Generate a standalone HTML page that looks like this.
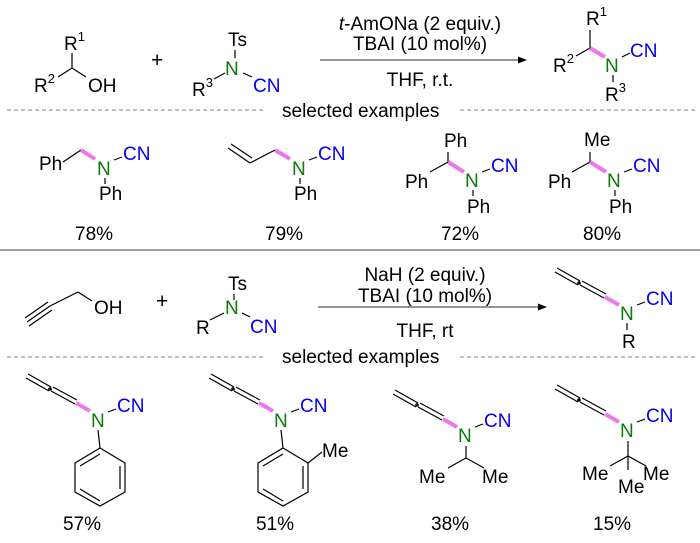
<!DOCTYPE html>
<html><head><meta charset="utf-8"><style>
html,body{margin:0;padding:0;background:#fff;}
svg{display:block;}
text{font-family:"Liberation Sans",Arial,sans-serif;font-size:19px;fill:#000;}
.g{fill:#0a7a0a;} .b{fill:#0000ee;}
.s{font-size:13px;}
line,polyline,polygon{stroke:#000;stroke-width:1.2;fill:none;}
.p{stroke:#ee77ee;stroke-width:4;}
.d{stroke:#888;stroke-dasharray:4 3;stroke-width:1;}
</style></head><body>
<svg width="700" height="543" viewBox="0 0 700 543">
<!-- top reaction -->
<text x="64" y="50">R<tspan class="s" dy="-9">1</tspan></text>
<line x1="72" y1="53" x2="72" y2="68"/>
<text x="34" y="92">R<tspan class="s" dy="-9">2</tspan></text>
<line x1="58" y1="77" x2="72" y2="68"/><line x1="72" y1="68" x2="86" y2="77"/>
<text x="88" y="92">OH</text>
<text x="151" y="67" style="font-size:21px">+</text>
<text x="228" y="46">Ts</text>
<line x1="235" y1="50" x2="235" y2="58"/>
<text class="g" x="225" y="75">N</text>
<text x="192" y="96">R<tspan class="s" dy="-9">3</tspan></text>
<line x1="214" y1="79" x2="225" y2="73"/><line x1="243" y1="73" x2="252" y2="77"/>
<text class="b" x="253" y="92">CN</text>
<line x1="320" y1="60" x2="520" y2="60" style="stroke:#555"/>
<polygon points="527,60 518,56.5 518,63.5" style="fill:#000;stroke:none"/>
<text x="420" y="30" text-anchor="middle"><tspan font-style="italic">t</tspan>-AmONa (2 equiv.)</text>
<text x="420" y="50" text-anchor="middle">TBAI (10 mol%)</text>
<text x="420" y="86" text-anchor="middle">THF, r.t.</text>
<text x="586" y="25">R<tspan class="s" dy="-9">1</tspan></text>
<line x1="590" y1="30" x2="590" y2="48"/>
<text x="553" y="72">R<tspan class="s" dy="-9">2</tspan></text>
<line x1="576" y1="56" x2="590" y2="48"/>
<line class="p" x1="590" y1="48" x2="605" y2="57"/>
<text class="g" x="605" y="72">N</text>
<line x1="622" y1="57" x2="630" y2="53"/>
<text class="b" x="630" y="57">CN</text>
<line x1="613" y1="75" x2="613" y2="82"/>
<text x="605" y="101">R<tspan class="s" dy="-9">3</tspan></text>
<line class="d" x1="7" y1="110" x2="265" y2="110"/>
<text x="282" y="117">selected examples</text>
<line class="d" x1="460" y1="110" x2="695" y2="110"/>
<!-- row1 -->
<text x="39" y="170">Ph</text>
<line x1="63" y1="162" x2="81" y2="150"/><line class="p" x1="81" y1="150" x2="95" y2="159"/>
<text class="g" x="97" y="175">N</text><line x1="114" y1="160" x2="122" y2="157"/>
<text class="b" x="123" y="160">CN</text>
<line x1="105" y1="178" x2="105" y2="184"/><text x="99" y="200">Ph</text>
<text x="75" y="240">78%</text>
<line x1="228" y1="148" x2="250" y2="163"/><line x1="231" y1="144" x2="252" y2="158"/>
<line x1="250" y1="163" x2="275" y2="150"/><line class="p" x1="275" y1="150" x2="290" y2="159"/>
<text class="g" x="292" y="175">N</text><line x1="309" y1="160" x2="317" y2="157"/>
<text class="b" x="318" y="160">CN</text>
<line x1="300" y1="178" x2="300" y2="184"/><text x="294" y="200">Ph</text>
<text x="265" y="240">79%</text>
<text x="444" y="147">Ph</text><line x1="448" y1="152" x2="448" y2="162"/>
<text x="405" y="188">Ph</text><line x1="430" y1="172" x2="448" y2="162"/>
<line class="p" x1="448" y1="162" x2="464" y2="172"/>
<text class="g" x="465" y="187">N</text><line x1="482" y1="172" x2="490" y2="169"/>
<text class="b" x="491" y="172">CN</text>
<line x1="473" y1="190" x2="473" y2="196"/><text x="467" y="213">Ph</text>
<text x="441" y="240">72%</text>
<text x="584" y="146">Me</text><line x1="590" y1="152" x2="590" y2="162"/>
<text x="548" y="188">Ph</text><line x1="572" y1="172" x2="590" y2="162"/>
<line class="p" x1="590" y1="162" x2="606" y2="172"/>
<text class="g" x="607" y="187">N</text><line x1="624" y1="172" x2="632" y2="169"/>
<text class="b" x="633" y="172">CN</text>
<line x1="615" y1="190" x2="615" y2="196"/><text x="609" y="213">Ph</text>
<text x="583" y="240">80%</text>
<line x1="0" y1="250" x2="700" y2="250" style="stroke:#666"/>
<!-- bottom reaction -->
<line x1="27" y1="322" x2="50" y2="306"/><line x1="25" y1="318" x2="48" y2="302"/><line x1="29" y1="326" x2="52" y2="310"/>
<line x1="50" y1="306" x2="78" y2="292"/><line x1="78" y1="292" x2="92" y2="301"/>
<text x="94" y="314">OH</text>
<text x="156" y="308" style="font-size:21px">+</text>
<text x="228" y="290">Ts</text><line x1="234" y1="294" x2="234" y2="300"/>
<text class="g" x="225" y="314">N</text>
<text x="196" y="334">R</text>
<line x1="210" y1="320" x2="224" y2="313"/><line x1="242" y1="313" x2="250" y2="317"/>
<text class="b" x="250" y="333">CN</text>
<line x1="318" y1="307" x2="540" y2="307" style="stroke:#555"/>
<polygon points="547,307 538,303.5 538,310.5" style="fill:#000;stroke:none"/>
<text x="425" y="281" text-anchor="middle">NaH (2 equiv.)</text>
<text x="425" y="302" text-anchor="middle">TBAI (10 mol%)</text>
<text x="425" y="337" text-anchor="middle">THF,  rt</text>
<g id="al">
<line x1="555" y1="272" x2="578" y2="285"/><line x1="557" y1="268" x2="580" y2="281"/>
<circle cx="579" cy="283" r="1.8" fill="#000"/>
<line x1="580" y1="285" x2="604" y2="298"/><line x1="582" y1="281" x2="606" y2="294"/>
<line class="p" x1="605" y1="297" x2="619" y2="305"/>
</g>
<text class="g" x="620" y="320">N</text><line x1="637" y1="305" x2="645" y2="302"/>
<text class="b" x="646" y="305">CN</text>
<line x1="627" y1="323" x2="627" y2="330"/><text x="622" y="348">R</text>
<line class="d" x1="7" y1="357" x2="265" y2="357"/>
<text x="282" y="363">selected examples</text>
<line class="d" x1="460" y1="357" x2="695" y2="357"/>
<!-- row2 -->
<use href="#al" transform="translate(-529,106)"/>
<text class="g" x="91" y="427">N</text><line x1="108" y1="412" x2="116" y2="409"/>
<text class="b" x="117" y="412">CN</text>
<line x1="98" y1="430" x2="100" y2="448"/>
<polygon points="100,448 125,463 125,492 100,506 75,492 75,463"/>
<line x1="120" y1="466" x2="120" y2="489"/><line x1="80" y1="489" x2="100" y2="501"/><line x1="80" y1="466" x2="100" y2="454"/>
<text x="63" y="530">57%</text>
<use href="#al" transform="translate(-346,106)"/>
<text class="g" x="274" y="427">N</text><line x1="291" y1="412" x2="299" y2="409"/>
<text class="b" x="300" y="412">CN</text>
<line x1="281" y1="430" x2="283" y2="448"/>
<polygon points="283,448 308,463 308,492 283,506 258,492 258,463"/>
<line x1="303" y1="466" x2="303" y2="489"/><line x1="263" y1="489" x2="283" y2="501"/><line x1="263" y1="466" x2="283" y2="454"/>
<line x1="308" y1="463" x2="322" y2="452"/><text x="322" y="457">Me</text>
<text x="256" y="530">51%</text>
<use href="#al" transform="translate(-162,122)"/>
<text class="g" x="458" y="442">N</text><line x1="475" y1="427" x2="483" y2="424"/>
<text class="b" x="484" y="427">CN</text>
<line x1="466" y1="446" x2="466" y2="458"/>
<line x1="448" y1="468" x2="466" y2="458"/><line x1="466" y1="458" x2="484" y2="468"/>
<text x="419" y="483">Me</text><text x="482" y="483">Me</text>
<text x="431" y="530">38%</text>
<use href="#al" transform="translate(0,117)"/>
<text class="g" x="620" y="437">N</text><line x1="637" y1="422" x2="645" y2="419"/>
<text class="b" x="646" y="422">CN</text>
<line x1="628" y1="441" x2="628" y2="456"/>
<line x1="610" y1="466" x2="628" y2="456"/><line x1="628" y1="456" x2="646" y2="466"/><line x1="628" y1="456" x2="628" y2="470"/>
<text x="582" y="480">Me</text><text x="643" y="480">Me</text><text x="618" y="493">Me</text>
<text x="593" y="530">15%</text>
</svg>
</body></html>
